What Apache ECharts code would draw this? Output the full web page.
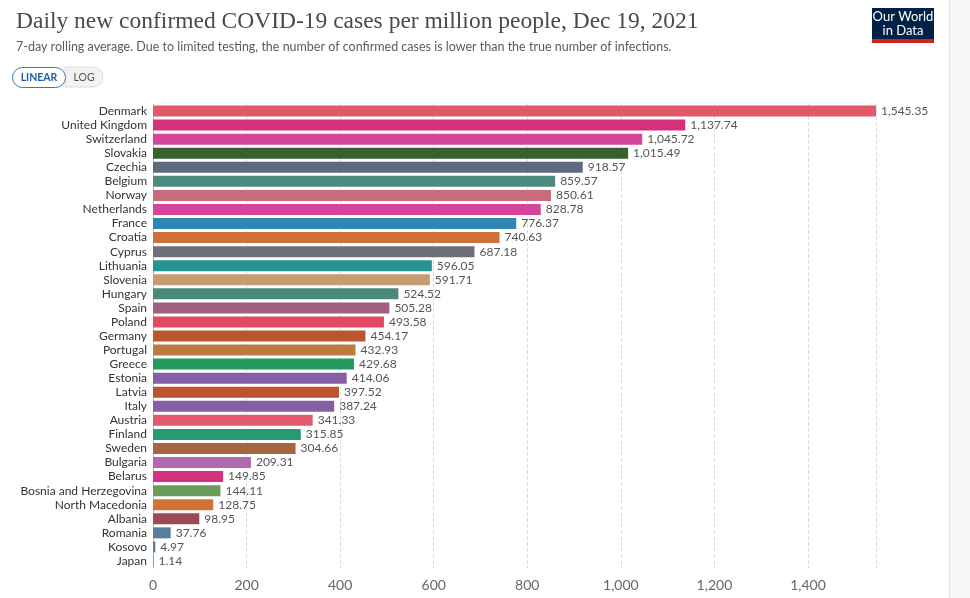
<!DOCTYPE html>
<html><head><meta charset="utf-8">
<script src="https://cdn.jsdelivr.net/npm/echarts@6/dist/echarts.min.js"></script>
<style>html,body{margin:0;padding:0;background:#fff}#c{width:970px;height:598px}</style>
</head><body><div id="c"></div>
<script>
const countries = ["Denmark","United Kingdom","Switzerland","Slovakia","Czechia","Belgium","Norway","Netherlands","France","Croatia","Cyprus","Lithuania","Slovenia","Hungary","Spain","Poland","Germany","Portugal","Greece","Estonia","Latvia","Italy","Austria","Finland","Sweden","Bulgaria","Belarus","Bosnia and Herzegovina","North Macedonia","Albania","Romania","Kosovo","Japan"];
const values = [1545.35,1137.74,1045.72,1015.49,918.57,859.57,850.61,828.78,776.37,740.63,687.18,596.05,591.71,524.52,505.28,493.58,454.17,432.93,429.68,414.06,397.52,387.24,341.33,315.85,304.66,209.31,149.85,144.11,128.75,98.95,37.76,4.97,1.14];
const colors = ["#e05a6b","#d5307e","#d5459b","#38602f","#5b6a7e","#4b8a7c","#c96b7d","#d5459b","#2f87b0","#cf7038","#6d7079","#25968f","#c99b71","#4b8a7b","#9f5f80","#e04a63","#bb5530","#be7a3c","#259a5e","#855ea4","#bb5530","#855ea4","#e05a6b","#269a70","#a7653f","#b16aaf","#d5307e","#6b9a5a","#d47139","#9c4a57","#577ea0","#577ea0","#4b8a7c"];
const xTicks = [0,200,400,600,800,1000,1200,1400];

const chart = echarts.init(document.getElementById('c'));
const fmt = v => v.toLocaleString('en-US',{minimumFractionDigits:2,maximumFractionDigits:2});
chart.setOption({
  animation:false,
  title:[{text:'Daily new confirmed COVID-19 cases per million people, Dec 19, 2021',left:11,top:5,
    textStyle:{fontFamily:'Liberation Serif',fontWeight:'normal',fontSize:23.5,color:'#4a4a4a'}},
    {text:'7-day rolling average. Due to limited testing, the number of confirmed cases is lower than the true number of infections.',left:11,top:35,
    textStyle:{fontFamily:'Lato',fontWeight:'normal',fontSize:12.5,color:'#5b5b5b'}}],
  grid:{left:153,right:94,top:104,bottom:30},
  xAxis:{type:'value',min:0,max:1545.35,interval:200,
    axisLine:{show:false},axisTick:{show:false},
    axisLabel:{fontFamily:'Lato',fontSize:14,color:'#666',margin:10,formatter:v=>xTicks.includes(v)?v.toLocaleString('en-US'):''},
    splitLine:{show:true,lineStyle:{type:'dashed',color:'#ddd'}}},
  yAxis:{type:'category',data:countries,inverse:true,
    axisLine:{show:true,lineStyle:{color:'#bbb'}},axisTick:{show:false},
    axisLabel:{interval:0,fontFamily:'Lato',fontSize:12,color:'#333',margin:6}},
  series:[{type:'bar',data:values.map((v,i)=>({value:v,itemStyle:{color:colors[i]}})),barWidth:11,
    label:{show:true,position:'right',distance:5,fontFamily:'Lato',fontSize:12,color:'#555',formatter:p=>fmt(p.value)}}],
  graphic:[
    {type:'rect',shape:{x:949,y:0,width:21,height:598},style:{fill:'#f7f7f7'}},
    {type:'line',shape:{x1:949.5,y1:0,x2:949.5,y2:598},style:{stroke:'#e4e4e4',lineWidth:1}},
    {type:'rect',shape:{x:872,y:8,width:62,height:31},style:{fill:'#002147'}},
    {type:'rect',shape:{x:872,y:39,width:62,height:4},style:{fill:'#ce261e'}},
    {type:'text',style:{x:903,y:10,text:'Our World\nin Data',fill:'#fff',font:'13px Lato',align:'center',lineHeight:14}},
    {type:'rect',shape:{x:65,y:67,width:38,height:20,r:[0,10,10,0]},style:{fill:'#f2f2f2',stroke:'#ddd',lineWidth:1}},
    {type:'rect',shape:{x:12.5,y:67.5,width:53,height:20,r:10},style:{fill:'#fff',stroke:'#2f77c4',lineWidth:1}},
    {type:'text',style:{x:39,y:77.5,text:'LINEAR',fill:'#1f5fa6',font:'bold 10.5px Lato',align:'center',verticalAlign:'middle'}},
    {type:'text',style:{x:84,y:77.5,text:'LOG',fill:'#555',font:'10.5px Lato',align:'center',verticalAlign:'middle'}}
  ]
});
</script></body></html>
